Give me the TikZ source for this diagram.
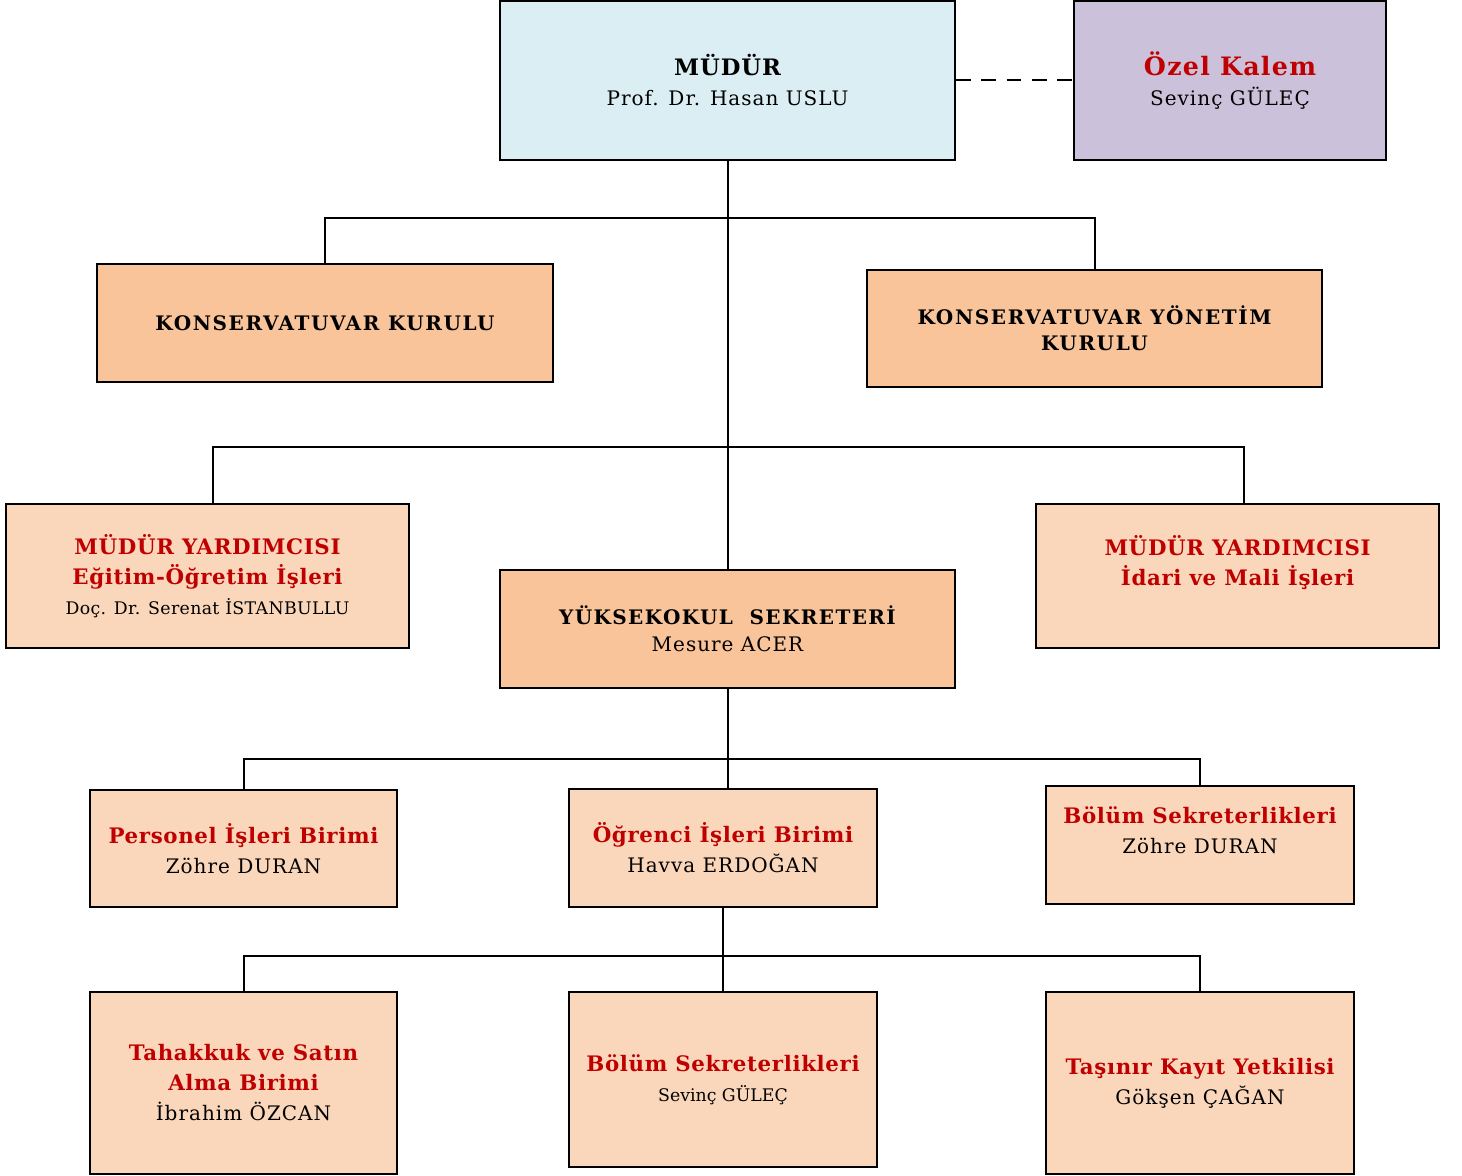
\documentclass[tikz,border=0pt]{standalone}
\usepackage{fontspec}
\setmainfont{DejaVu Serif}
\definecolor{cblue}{HTML}{DAEEF3}
\definecolor{cpurple}{HTML}{CCC1DA}
\definecolor{corange}{HTML}{F9C49A}
\definecolor{cpeach}{HTML}{FAD7BB}
\definecolor{cred}{HTML}{C00000}
\newcommand{\ttl}[1]{{\fontsize{16}{22.5}\selectfont\bfseries\addfontfeature{LetterSpace=3}\color{cred}#1}}
\newcommand{\nm}[1]{{\fontsize{15}{22.5}\selectfont\addfontfeature{LetterSpace=5}#1}}
\newcommand{\blk}[1]{{\fontsize{15}{20}\selectfont\bfseries\addfontfeature{LetterSpace=8}#1}}
\begin{document}
\begin{tikzpicture}[x=0.75pt,y=-0.75pt,
  box/.style={draw=black,line width=1.3pt,align=center,inner sep=0pt,font=\fontsize{15}{22.5}\selectfont},
  link/.style={draw=black,line width=1.5pt}]
\useasboundingbox (0,0) rectangle (1462,1176);
\node[box,fill=cblue,minimum width=341.25pt,minimum height=119.25pt] (mudur) at (727.5,80.5)
  {{\fontsize{17}{22}\selectfont\bfseries\addfontfeature{LetterSpace=4}MÜDÜR}\\\nm{Prof. Dr. Hasan USLU}};
\node[box,fill=cpurple,minimum width=234pt,minimum height=119.25pt] (ozel) at (1230,80.5)
  {{\fontsize{19}{22}\selectfont\bfseries\addfontfeature{LetterSpace=5}\color{cred}Özel Kalem}\\\nm{Sevinç GÜLEÇ}};
\node[box,fill=corange,minimum width=342pt,minimum height=88.5pt] (kurul) at (325,323)
  {\blk{KONSERVATUVAR KURULU}};
\node[box,fill=corange,minimum width=341.25pt,minimum height=87.75pt,font=\fontsize{15}{19.5}\selectfont] (yonetim) at (1094.5,328.5)
  {\blk{KONSERVATUVAR YÖNETİM}\\\blk{KURULU}};
\node[box,fill=cpeach,minimum width=302.25pt,minimum height=108pt] (myl) at (207.5,576)
  {\ttl{MÜDÜR YARDIMCISI}\\\ttl{Eğitim-Öğretim İşleri}\\{\fontsize{13}{18}\selectfont\addfontfeature{LetterSpace=2}Doç. Dr. Serenat İSTANBULLU}};
\node[box,fill=cpeach,minimum width=302.25pt,minimum height=108pt,text depth=23.5pt] (myr) at (1237.5,576)
  {\ttl{MÜDÜR YARDIMCISI}\\\ttl{İdari ve Mali İşleri}};
\node[box,fill=corange,minimum width=341.25pt,minimum height=88.5pt,font=\fontsize{15}{20}\selectfont] (yks) at (727.5,629)
  {{\fontsize{15}{20}\selectfont\bfseries\addfontfeature{LetterSpace=7}YÜKSEKOKUL\ \ SEKRETERİ}\\\nm{Mesure ACER}};
\node[box,fill=cpeach,minimum width=230.25pt,minimum height=87.75pt] (pers) at (243.5,848.5)
  {\ttl{Personel İşleri Birimi}\\\nm{Zöhre DURAN}};
\node[box,fill=cpeach,minimum width=231pt,minimum height=88.5pt] (ogr) at (723,848)
  {\ttl{Öğrenci İşleri Birimi}\\\nm{Havva ERDOĞAN}};
\node[box,fill=cpeach,minimum width=231pt,minimum height=88.5pt,text depth=22pt] (bol1) at (1200,845)
  {\ttl{Bölüm Sekreterlikleri}\\\nm{Zöhre DURAN}};
\node[box,fill=cpeach,minimum width=230.25pt,minimum height=136.5pt] (tah) at (243.5,1083)
  {\ttl{Tahakkuk ve Satın}\\\ttl{Alma Birimi}\\\nm{İbrahim ÖZCAN}};
\node[box,fill=cpeach,minimum width=231pt,minimum height=131.25pt] (bol2) at (723,1079.5)
  {\ttl{Bölüm Sekreterlikleri}\\{\fontsize{13}{18}\selectfont Sevinç GÜLEÇ}};
\node[box,fill=cpeach,minimum width=231pt,minimum height=136.5pt] (tas) at (1200,1083)
  {\ttl{Taşınır Kayıt Yetkilisi}\\\nm{Gökşen ÇAĞAN}};
\coordinate (j1) at (727.5,218);
\coordinate (j2) at (727.5,447);
\coordinate (j3) at (727.5,759);
\coordinate (j4) at (723,956);
\draw[link] (mudur.south) -- (yks.north);
\draw[link,dash pattern=on 11pt off 8pt] (mudur.east) -- (ozel.west);
\draw[link] (kurul.north) |- (j1) -| (yonetim.north);
\draw[link] ([xshift=3.75pt]myl.north) |- (j2) -| ([xshift=4.5pt]myr.north);
\draw[link] (yks.south) -- (yks.south |- ogr.north);
\draw[link] (pers.north) |- (j3) -| (bol1.north);
\draw[link] (ogr.south) -- (bol2.north);
\draw[link] (tah.north) |- (j4) -| (tas.north);
\end{tikzpicture}
\end{document}
